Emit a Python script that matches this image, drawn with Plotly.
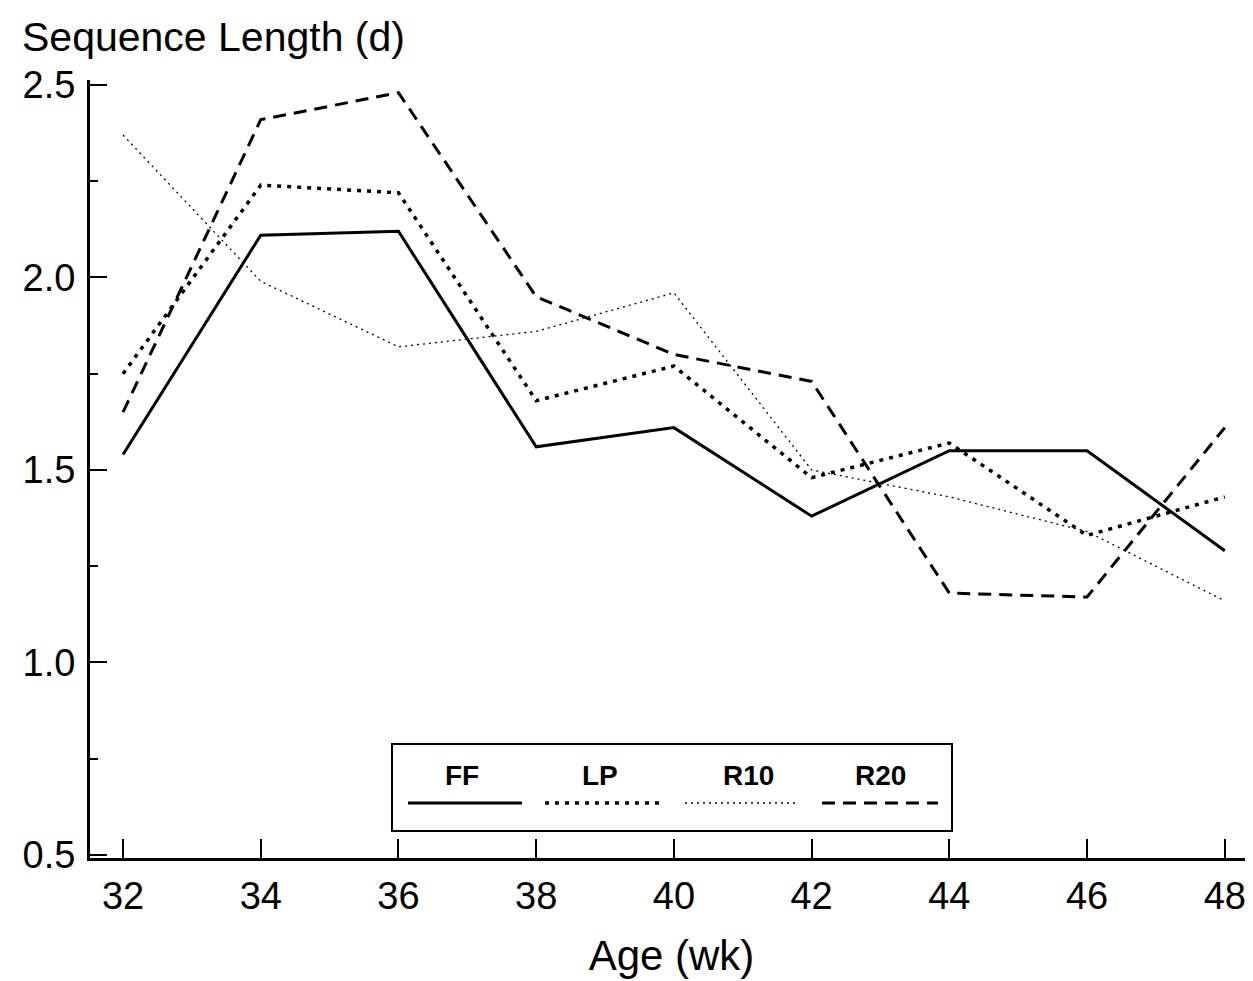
import plotly.graph_objects as go

ages = [32, 34, 36, 38, 40, 42, 44, 46, 48]
ff = [1.54, 2.11, 2.12, 1.56, 1.61, 1.38, 1.55, 1.55, 1.29]
lp = [1.75, 2.24, 2.22, 1.68, 1.77, 1.48, 1.57, 1.33, 1.43]
r10 = [2.37, 1.99, 1.82, 1.86, 1.96, 1.50, 1.43, 1.34, 1.16]
r20 = [1.65, 2.41, 2.48, 1.95, 1.80, 1.73, 1.18, 1.17, 1.61]

series = [
    ("FF", ff, dict(color="black", width=3, dash="solid")),
    ("LP", lp, dict(color="black", width=3.5, dash="4px,6px")),
    ("R10", r10, dict(color="black", width=1.3, dash="2px,4px")),
    ("R20", r20, dict(color="black", width=3, dash="13px,8px")),
]

fig = go.Figure()
for name, vals, line in series:
    fig.add_trace(go.Scatter(x=ages, y=vals, mode="lines", name=name, line=line,
                             showlegend=False))

OFF = 8  # page body margin
W, H = 1253 - OFF, 981 - OFF
L, R, T = 90 - OFF, 0, 80 - OFF
B = H - (858 - OFF)
pw, ph = W - L - R, H - T - B

def px(x):
    return (x - OFF - L) / pw

def py(y):
    return 1 - (y - OFF - T) / ph

FONT = "Liberation Sans, Arial, sans-serif"

fig.update_layout(
    width=W, height=H,
    margin=dict(l=L, r=R, t=T, b=B),
    paper_bgcolor="white", plot_bgcolor="white",
    font=dict(family=FONT, color="black"),
    xaxis=dict(range=[31.52, 48.41], tickvals=ages, ticks="inside", ticklen=19,
               tickwidth=1.5, tickcolor="black", showline=True, linewidth=3,
               linecolor="black", showgrid=False, zeroline=False,
               tickfont=dict(size=38), ticklabelstandoff=2,
               title=dict(text="Age (wk)", font=dict(size=42), standoff=26)),
    yaxis=dict(range=[0.492, 2.513], tickvals=[0.5, 1.0, 1.5, 2.0, 2.5],
               ticktext=["0.5", "1.0", "1.5", "2.0", "2.5"],
               ticks="inside", ticklen=17, tickwidth=1.5, tickcolor="black",
               minor=dict(dtick=0.25, ticks="inside", ticklen=8, tickwidth=1.5, tickcolor="black"),
               showline=True, linewidth=3, linecolor="black", showgrid=False, zeroline=False,
               tickfont=dict(size=38), ticklabelstandoff=4),
)

fig.add_annotation(text="Sequence Length (d)", xref="paper", yref="paper",
                   x=px(20), y=py(37), xanchor="left", yanchor="middle",
                   showarrow=False, font=dict(size=41))

# legend box
x0, x1, y0, y1 = 392, 952, 744, 831
fig.add_shape(type="rect", xref="paper", yref="paper", x0=px(x0), x1=px(x1),
              y0=py(y1), y1=py(y0), line=dict(color="black", width=2), fillcolor="white")
leg = [(462, 408, 522), (600, 545, 660), (748, 685, 797), (880, 822, 938)]
for (name, _, line), (tx, lx0, lx1) in zip(series, leg):
    fig.add_annotation(text="<b>%s</b>" % name, xref="paper", yref="paper",
                       x=px(tx), y=py(775), xanchor="center", yanchor="middle",
                       showarrow=False, font=dict(size=28))
    fig.add_shape(type="line", xref="paper", yref="paper", x0=px(lx0), x1=px(lx1),
                  y0=py(803), y1=py(803), line=line)

fig.write_html("out.html")
